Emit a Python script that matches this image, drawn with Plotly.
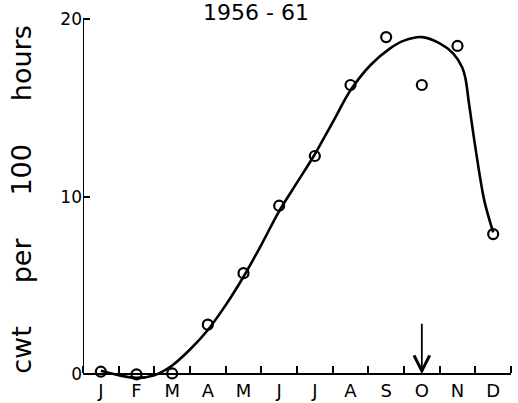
import plotly.graph_objects as go

# Data
month_labels = ["J", "F", "M", "A", "M", "J", "J", "A", "S", "O", "N", "D"]
month_pos = [1, 2, 3, 4, 5, 6, 7, 8, 9, 10, 11, 12]
observed = [0.15, 0.0, 0.05, 2.8, 5.7, 9.5, 12.3, 16.3, 19.0, 16.3, 18.5, 7.9]

# hand-fitted smooth curve
curve_x = [1.0, 1.5, 2.0, 2.5, 3.0, 3.5, 4.0, 4.5, 5.0, 5.5, 6.0, 6.5, 7.0,
           7.5, 8.0, 8.55, 9.1, 9.5, 10.0, 10.5, 10.87, 11.13, 11.22,
           11.32, 11.5, 11.75, 12.0]
curve_y = [0.2, -0.05, -0.2, -0.05, 0.5, 1.4, 2.5, 3.9, 5.5, 7.3, 9.2, 10.8, 12.4,
           14.2, 16.0, 17.4, 18.35, 18.8, 19.0, 18.65, 18.1, 17.3, 16.7,
           15.3, 12.8, 9.8, 8.0]

y_ticks = [0, 10, 20]
arrow_month = 10

title_text = "1956 - 61"
y_title = ("cwt" + "\u00a0" * 5 + "per" + "\u00a0" * 5 + "100" + "\u00a0" * 5 + "hours")

font_family = "DejaVu Sans, Liberation Sans, sans-serif"
y_range = [-0.6, 20.3]

fig = go.Figure()

fig.add_trace(go.Scatter(
    x=curve_x, y=curve_y, mode="lines",
    line=dict(color="black", width=2.6, shape="spline", smoothing=0.9),
    hoverinfo="skip", showlegend=False,
))

fig.add_trace(go.Scatter(
    x=month_pos, y=observed, mode="markers",
    marker=dict(symbol="circle-open", size=10, color="black",
                line=dict(width=2.2, color="black")),
    cliponaxis=False, showlegend=False,
))

# y axis line from 0 to 20
fig.add_shape(type="line", xref="x", yref="y", x0=0.5, x1=0.5,
              y0=y_ticks[0], y1=y_ticks[-1],
              line=dict(color="black", width=2))

# arrow at October
fig.add_annotation(x=arrow_month, y=0, xref="x", yref="y", ax=0, ay=-52,
                   text="", showarrow=True, arrowhead=5, arrowsize=1.7,
                   arrowwidth=1.8, arrowcolor="black", standoff=0)

fig.update_layout(
    width=518, height=403,
    margin=dict(l=83, r=7, t=14, b=18, autoexpand=False),
    paper_bgcolor="white", plot_bgcolor="white",
    font=dict(family=font_family, color="black"),
    title=dict(text=title_text, x=256 / 518, xanchor="center",
               y=1 - 12 / 403, yanchor="middle", yref="container",
               font=dict(size=22, family=font_family, color="black")),
)

fig.update_xaxes(
    range=[0.5, 12.5], tickmode="array", tickvals=month_pos, ticktext=month_labels,
    ticks="", showgrid=False, zeroline=False, automargin=False,
    showline=True, linecolor="black", linewidth=2,
    anchor="free", position=(0 - y_range[0]) / (y_range[1] - y_range[0]),
    tickfont=dict(size=18, family=font_family, color="black"),
    minor=dict(tick0=0.5, dtick=1, ticks="inside", ticklen=7, tickwidth=2,
               tickcolor="black", showgrid=False),
    ticklabelstandoff=0,
)

fig.update_yaxes(
    range=y_range, tickmode="array", tickvals=y_ticks,
    ticktext=[str(v) for v in y_ticks],
    ticks="inside", ticklen=7, tickwidth=2, tickcolor="black",
    showgrid=False, zeroline=False, showline=False, automargin=False,
    tickfont=dict(size=17, family=font_family, color="black"),
    title=dict(text=y_title, standoff=20,
               font=dict(size=27, family=font_family, color="black")),
)

fig.write_html("out.html")
